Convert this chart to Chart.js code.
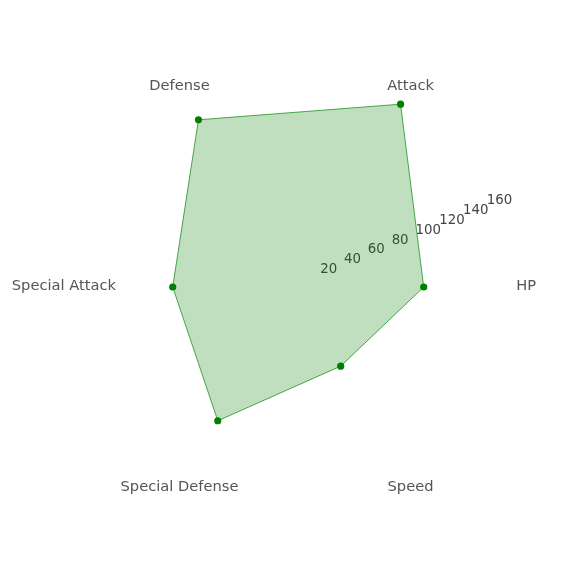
<!DOCTYPE html>
<html>
<head>
<meta charset="utf-8">
<script src="https://cdn.jsdelivr.net/npm/chart.js@4"></script>
<style>
  html, body { margin: 0; padding: 0; background: #ffffff; }
  #wrap { width: 576px; height: 576px; position: relative; }
</style>
</head>
<body>
<div id="wrap"><canvas id="c"></canvas></div>
<script>
// Data (Mega Tyranitar base stats)
const categories = ['HP', 'Attack', 'Defense', 'Special Attack', 'Special Defense', 'Speed'];
const values = [100, 164, 150, 95, 120, 71];
const tickValues = [20, 40, 60, 80, 100, 120, 140, 160];

// Chart.js walks clockwise; the reference goes counter-clockwise from the right.
const order = [0, 5, 4, 3, 2, 1];
const chartLabels = order.map(i => categories[i]);
const chartValues = order.map(i => values[i]);

const textPlugin = {
  id: 'textPlugin',
  beforeDatasetsDraw(chart) {
    const s = chart.scales.r;
    const ctx = chart.ctx;
    const th = 22.5 * Math.PI / 180;
    ctx.save();
    ctx.font = '13.33px "DejaVu Sans"';
    ctx.fillStyle = '#444444';
    ctx.textAlign = 'left';
    ctx.textBaseline = 'alphabetic';
    tickValues.forEach(v => {
      const d = s.getDistanceFromCenterForValue(v);
      const x = s.xCenter + d * Math.cos(th);
      const y = s.yCenter - d * Math.sin(th);
      ctx.fillText(String(v), x + 1.5, y - 4);
    });
    ctx.restore();
  },
  afterDatasetsDraw(chart) {
    const s = chart.scales.r;
    const ctx = chart.ctx;
    ctx.save();
    ctx.font = '14.67px "DejaVu Sans"';
    ctx.fillStyle = '#555555';
    ctx.textAlign = 'center';
    ctx.textBaseline = 'alphabetic';
    const d = s.getDistanceFromCenterForValue(179.5);
    chartLabels.forEach((lab, i) => {
      const p = s.getPointPosition(i, d);
      ctx.fillText(lab, p.x, p.y + 3.4);
    });
    ctx.restore();
  }
};

new Chart(document.getElementById('c'), {
  type: 'radar',
  data: {
    labels: chartLabels,
    datasets: [{
      data: chartValues,
      backgroundColor: 'rgba(0,128,0,0.25)',
      borderColor: 'rgba(0,128,0,0.85)',
      borderWidth: 0.8,
      pointRadius: 3.6,
      pointHoverRadius: 3.6,
      pointBackgroundColor: '#008000',
      pointBorderWidth: 0,
      fill: true
    }]
  },
  options: {
    responsive: true,
    maintainAspectRatio: false,
    animation: false,
    layout: { padding: { left: 14, right: 0, top: 0, bottom: 2 } },
    plugins: { legend: { display: false }, tooltip: { enabled: false } },
    scales: {
      r: {
        startAngle: 90,
        min: 0,
        max: 218.3,
        ticks: { display: false },
        grid: { display: false },
        angleLines: { display: false },
        pointLabels: { display: false }
      }
    }
  },
  plugins: [textPlugin]
});
</script>
</body>
</html>
